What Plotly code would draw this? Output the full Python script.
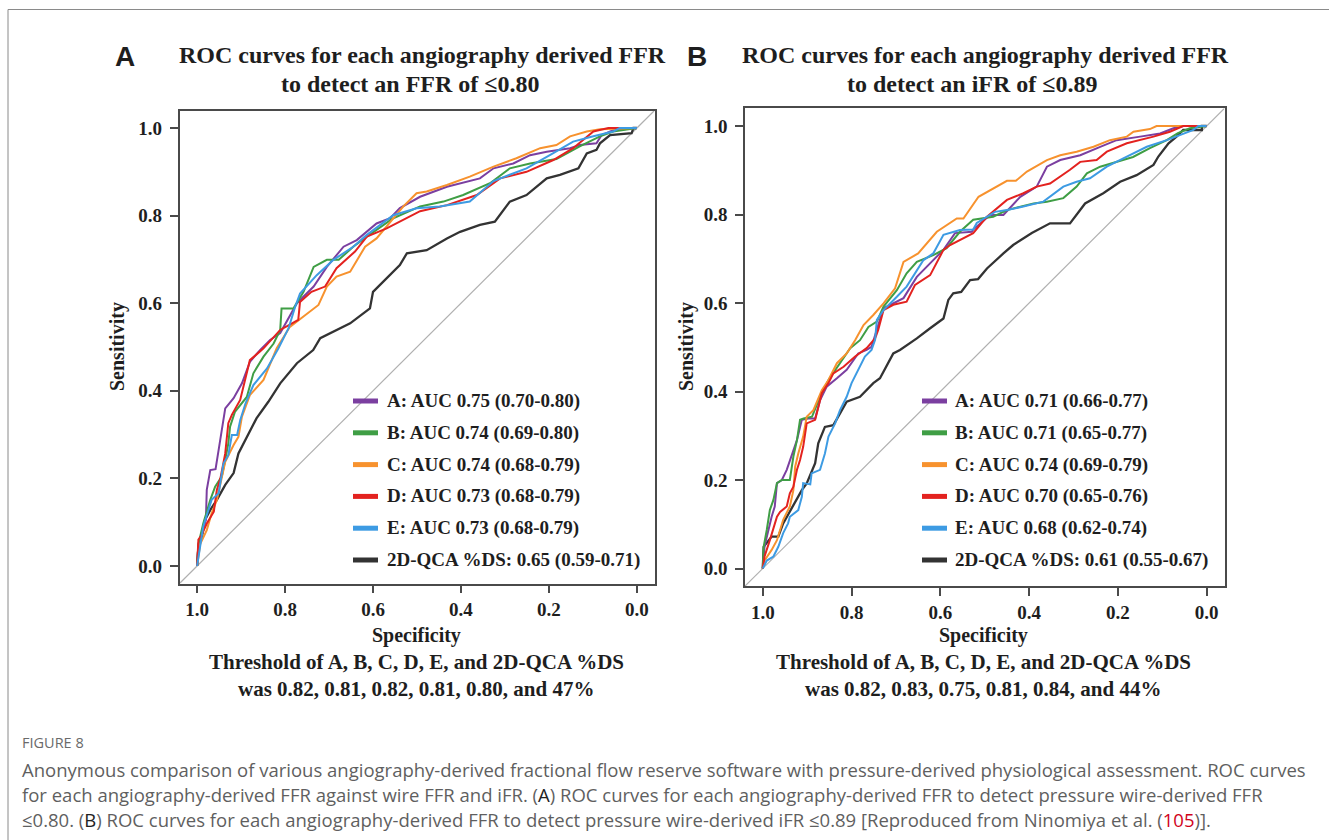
import plotly.graph_objects as go

# ---------------- data ----------------
TICK_VALS = [0.0, 0.2, 0.4, 0.6, 0.8, 1.0]
TICK_TEXT = ["0.0", "0.2", "0.4", "0.6", "0.8", "1.0"]

SERIES = ["A", "B", "C", "D", "E", "2D-QCA %DS"]
LEGEND_FFR = ["A: AUC 0.75 (0.70-0.80)", "B: AUC 0.74 (0.69-0.80)", "C: AUC 0.74 (0.68-0.79)",
              "D: AUC 0.73 (0.68-0.79)", "E: AUC 0.73 (0.68-0.79)", "2D-QCA %DS: 0.65 (0.59-0.71)"]
LEGEND_IFR = ["A: AUC 0.71 (0.66-0.77)", "B: AUC 0.71 (0.65-0.77)", "C: AUC 0.74 (0.69-0.79)",
              "D: AUC 0.70 (0.65-0.76)", "E: AUC 0.68 (0.62-0.74)", "2D-QCA %DS: 0.61 (0.55-0.67)"]

# Panel A (FFR <= 0.80): specificity / sensitivity
FFR_A_SPEC = [1.0, 0.997, 0.98, 0.978, 0.97, 0.958, 0.951, 0.94, 0.936, 0.917, 0.898, 0.88, 0.857, 0.834, 0.811,
              0.773, 0.735, 0.705, 0.667, 0.637, 0.592, 0.561, 0.539, 0.493, 0.432, 0.357, 0.326, 0.281, 0.243,
              0.205, 0.152, 0.13, 0.092, 0.08, 0.054, 0.0]
FFR_A_SENS = [0.0, 0.05, 0.105, 0.174, 0.219, 0.221, 0.265, 0.333, 0.36, 0.383, 0.417, 0.466, 0.493, 0.516, 0.532,
              0.6, 0.638, 0.683, 0.729, 0.744, 0.782, 0.794, 0.817, 0.843, 0.866, 0.885, 0.908, 0.919, 0.938,
              0.946, 0.954, 0.961, 0.965, 0.984, 0.995, 1.0]
FFR_B_SPEC = [1.0, 0.997, 0.986, 0.97, 0.959, 0.944, 0.936, 0.929, 0.925, 0.914, 0.887, 0.872, 0.849, 0.826, 0.811,
              0.808, 0.781, 0.758, 0.735, 0.705, 0.678, 0.645, 0.614, 0.554, 0.493, 0.44, 0.395, 0.334, 0.289,
              0.243, 0.183, 0.13, 0.084, 0.054, 0.0]
FFR_B_SENS = [0.0, 0.05, 0.097, 0.151, 0.181, 0.204, 0.242, 0.28, 0.318, 0.352, 0.386, 0.44, 0.478, 0.508, 0.539,
              0.588, 0.588, 0.626, 0.683, 0.699, 0.699, 0.729, 0.752, 0.794, 0.821, 0.832, 0.847, 0.874, 0.908,
              0.919, 0.929, 0.958, 0.981, 0.992, 1.0]
FFR_C_SPEC = [1.0, 0.993, 0.978, 0.967, 0.955, 0.944, 0.936, 0.917, 0.906, 0.898, 0.88, 0.849, 0.819, 0.789, 0.758,
              0.724, 0.705, 0.683, 0.652, 0.618, 0.592, 0.554, 0.531, 0.501, 0.478, 0.432, 0.38, 0.326, 0.274,
              0.22, 0.183, 0.152, 0.114, 0.084, 0.0]
FFR_C_SENS = [0.0, 0.05, 0.082, 0.12, 0.151, 0.204, 0.238, 0.276, 0.295, 0.341, 0.39, 0.425, 0.497, 0.546, 0.569,
              0.596, 0.638, 0.661, 0.672, 0.729, 0.748, 0.794, 0.821, 0.851, 0.855, 0.87, 0.889, 0.912, 0.931,
              0.954, 0.961, 0.981, 0.992, 0.997, 1.0]
FFR_D_SPEC = [1.0, 0.997, 0.99, 0.978, 0.962, 0.955, 0.947, 0.936, 0.929, 0.921, 0.902, 0.88, 0.857, 0.849, 0.811,
              0.77, 0.766, 0.74, 0.709, 0.683, 0.641, 0.614, 0.569, 0.493, 0.432, 0.364, 0.311, 0.251, 0.19,
              0.145, 0.099, 0.065, 0.0]
FFR_D_SENS = [0.0, 0.06, 0.07, 0.097, 0.124, 0.174, 0.2, 0.257, 0.326, 0.345, 0.379, 0.47, 0.49, 0.497, 0.539,
              0.562, 0.603, 0.626, 0.638, 0.68, 0.718, 0.752, 0.771, 0.81, 0.824, 0.847, 0.885, 0.9, 0.927,
              0.954, 0.992, 1.0, 1.0]
FFR_E_SPEC = [1.0, 0.993, 0.986, 0.967, 0.951, 0.94, 0.929, 0.921, 0.909, 0.902, 0.89, 0.872, 0.841, 0.815, 0.792,
              0.777, 0.766, 0.728, 0.69, 0.645, 0.614, 0.554, 0.501, 0.448, 0.38, 0.326, 0.251, 0.198, 0.145,
              0.099, 0.054, 0.039, 0.0]
FFR_E_SENS = [0.0, 0.05, 0.09, 0.151, 0.166, 0.234, 0.253, 0.299, 0.299, 0.333, 0.371, 0.413, 0.451, 0.497, 0.543,
              0.592, 0.622, 0.664, 0.699, 0.729, 0.756, 0.801, 0.817, 0.821, 0.832, 0.879, 0.908, 0.938, 0.969,
              0.981, 0.992, 1.0, 1.0]
FFR_QCA_SPEC = [1.0, 0.997, 0.989, 0.982, 0.97, 0.955, 0.936, 0.917, 0.906, 0.887, 0.865, 0.838, 0.811, 0.773,
                0.736, 0.72, 0.652, 0.607, 0.6, 0.539, 0.523, 0.478, 0.432, 0.402, 0.357, 0.323, 0.289, 0.251,
                0.205, 0.175, 0.133, 0.114, 0.092, 0.084, 0.061, 0.012, 0.008, 0.0]
FFR_QCA_SENS = [0.0, 0.044, 0.067, 0.105, 0.128, 0.151, 0.185, 0.212, 0.257, 0.295, 0.337, 0.375, 0.417, 0.463,
                0.493, 0.52, 0.554, 0.588, 0.626, 0.687, 0.714, 0.721, 0.748, 0.763, 0.779, 0.786, 0.832, 0.847,
                0.885, 0.893, 0.908, 0.942, 0.95, 0.965, 0.984, 0.988, 1.0, 1.0]

# Panel B (iFR <= 0.89)
IFR_A_SPEC = [1.0, 0.996, 0.98, 0.973, 0.968, 0.957, 0.946, 0.935, 0.923, 0.916, 0.912, 0.897, 0.882, 0.871, 0.856,
              0.833, 0.811, 0.785, 0.766, 0.755, 0.743, 0.728, 0.683, 0.653, 0.616, 0.593, 0.567, 0.529, 0.526,
              0.488, 0.458, 0.42, 0.383, 0.36, 0.33, 0.285, 0.24, 0.203, 0.15, 0.105, 0.075, 0.053, 0.0]
IFR_A_SENS = [0.0, 0.05, 0.117, 0.14, 0.193, 0.2, 0.223, 0.253, 0.29, 0.32, 0.336, 0.339, 0.339, 0.38, 0.411,
              0.43, 0.449, 0.486, 0.494, 0.501, 0.539, 0.588, 0.611, 0.659, 0.697, 0.72, 0.758, 0.761, 0.766,
              0.799, 0.799, 0.84, 0.863, 0.908, 0.923, 0.934, 0.953, 0.968, 0.976, 0.983, 0.995, 1.0, 1.0]
IFR_B_SPEC = [1.0, 0.998, 0.991, 0.984, 0.976, 0.968, 0.957, 0.939, 0.931, 0.923, 0.916, 0.908, 0.889, 0.871, 0.852,
              0.826, 0.803, 0.781, 0.762, 0.743, 0.728, 0.698, 0.676, 0.653, 0.616, 0.586, 0.556, 0.526, 0.511,
              0.481, 0.45, 0.39, 0.36, 0.323, 0.293, 0.27, 0.24, 0.166, 0.128, 0.09, 0.065, 0.038, 0.0]
IFR_B_SENS = [0.0, 0.049, 0.087, 0.132, 0.155, 0.193, 0.2, 0.2, 0.253, 0.29, 0.336, 0.339, 0.343, 0.388, 0.426,
              0.464, 0.498, 0.516, 0.546, 0.558, 0.592, 0.629, 0.667, 0.693, 0.708, 0.724, 0.761, 0.788, 0.79,
              0.795, 0.81, 0.825, 0.829, 0.837, 0.863, 0.893, 0.908, 0.93, 0.95, 0.968, 0.984, 0.995, 1.0]
IFR_C_SPEC = [1.0, 0.996, 0.98, 0.968, 0.954, 0.939, 0.931, 0.927, 0.92, 0.909, 0.901, 0.886, 0.867, 0.852, 0.833,
              0.811, 0.792, 0.773, 0.751, 0.728, 0.702, 0.683, 0.65, 0.608, 0.563, 0.548, 0.514, 0.481, 0.45,
              0.43, 0.405, 0.36, 0.33, 0.293, 0.255, 0.218, 0.18, 0.165, 0.128, 0.113, 0.0]
IFR_C_SENS = [0.0, 0.018, 0.042, 0.064, 0.11, 0.14, 0.177, 0.23, 0.26, 0.298, 0.343, 0.358, 0.403, 0.426, 0.464,
              0.486, 0.516, 0.55, 0.573, 0.599, 0.633, 0.693, 0.712, 0.761, 0.791, 0.791, 0.84, 0.859, 0.876,
              0.876, 0.897, 0.923, 0.934, 0.942, 0.953, 0.968, 0.976, 0.987, 0.993, 1.0, 1.0]
IFR_D_SPEC = [1.0, 0.996, 0.984, 0.968, 0.961, 0.946, 0.939, 0.931, 0.923, 0.916, 0.909, 0.901, 0.882, 0.867, 0.852,
              0.841, 0.818, 0.792, 0.766, 0.747, 0.74, 0.728, 0.706, 0.676, 0.657, 0.623, 0.593, 0.578, 0.526,
              0.495, 0.45, 0.413, 0.383, 0.353, 0.308, 0.285, 0.248, 0.225, 0.18, 0.12, 0.083, 0.053, 0.0]
IFR_D_SENS = [0.0, 0.027, 0.064, 0.117, 0.128, 0.14, 0.17, 0.185, 0.223, 0.245, 0.275, 0.328, 0.336, 0.396, 0.419,
              0.441, 0.456, 0.479, 0.498, 0.52, 0.539, 0.584, 0.596, 0.603, 0.641, 0.663, 0.72, 0.731, 0.758,
              0.795, 0.833, 0.848, 0.863, 0.87, 0.901, 0.919, 0.923, 0.942, 0.961, 0.976, 0.987, 1.0, 1.0]
IFR_E_SPEC = [1.0, 0.991, 0.976, 0.965, 0.954, 0.943, 0.939, 0.92, 0.912, 0.909, 0.893, 0.89, 0.871, 0.86, 0.852,
              0.837, 0.826, 0.811, 0.8, 0.785, 0.77, 0.755, 0.747, 0.743, 0.728, 0.698, 0.676, 0.638, 0.616,
              0.593, 0.556, 0.526, 0.518, 0.477, 0.45, 0.413, 0.368, 0.323, 0.293, 0.263, 0.225, 0.18, 0.135,
              0.09, 0.053, 0.03, 0.019, 0.0]
IFR_E_SENS = [0.0, 0.018, 0.027, 0.049, 0.08, 0.102, 0.117, 0.132, 0.162, 0.193, 0.19, 0.215, 0.223, 0.26, 0.298,
              0.328, 0.358, 0.388, 0.419, 0.449, 0.479, 0.494, 0.517, 0.562, 0.584, 0.614, 0.637, 0.697, 0.712,
              0.754, 0.765, 0.766, 0.781, 0.806, 0.81, 0.818, 0.829, 0.863, 0.874, 0.882, 0.908, 0.931, 0.953,
              0.968, 0.983, 0.991, 1.0, 1.0]
IFR_QCA_SPEC = [1.0, 0.998, 0.98, 0.965, 0.954, 0.939, 0.923, 0.912, 0.901, 0.882, 0.875, 0.86, 0.841, 0.826,
                0.811, 0.781, 0.751, 0.736, 0.706, 0.691, 0.653, 0.623, 0.593, 0.582, 0.571, 0.553, 0.533, 0.515,
                0.495, 0.458, 0.436, 0.394, 0.353, 0.308, 0.274, 0.233, 0.195, 0.158, 0.12, 0.109, 0.086, 0.068,
                0.053, 0.011, 0.011, 0.0]
IFR_QCA_SENS = [0.0, 0.049, 0.072, 0.072, 0.102, 0.128, 0.159, 0.177, 0.192, 0.238, 0.283, 0.32, 0.324, 0.351,
                0.377, 0.388, 0.419, 0.43, 0.486, 0.494, 0.52, 0.543, 0.565, 0.607, 0.622, 0.625, 0.652, 0.654,
                0.678, 0.712, 0.731, 0.758, 0.78, 0.78, 0.825, 0.848, 0.874, 0.889, 0.912, 0.931, 0.961, 0.976,
                0.991, 0.991, 1.0, 1.0]

CHANCE_SPEC = [1.04, -0.04]
CHANCE_SENS = [-0.04, 1.04]

# ---------------- style ----------------
COLORS = ["#7b3fa0", "#3f9e45", "#f7922e", "#e3221f", "#3d9be3", "#333333"]
W, H = 1329, 840
SERIF = "Liberation Serif, Times New Roman, serif"
TXT = "#1e1e1e"


def px(x):
    return x / W


def py(y):
    return 1 - y / H


fig = go.Figure()

panels = [
    ("x", "y", list(zip([FFR_A_SPEC, FFR_B_SPEC, FFR_C_SPEC, FFR_D_SPEC, FFR_E_SPEC, FFR_QCA_SPEC],
                        [FFR_A_SENS, FFR_B_SENS, FFR_C_SENS, FFR_D_SENS, FFR_E_SENS, FFR_QCA_SENS]))),
    ("x2", "y2", list(zip([IFR_A_SPEC, IFR_B_SPEC, IFR_C_SPEC, IFR_D_SPEC, IFR_E_SPEC, IFR_QCA_SPEC],
                          [IFR_A_SENS, IFR_B_SENS, IFR_C_SENS, IFR_D_SENS, IFR_E_SENS, IFR_QCA_SENS]))),
]
for xa, ya, curves in panels:
    fig.add_trace(go.Scatter(x=CHANCE_SPEC, y=CHANCE_SENS, mode="lines", xaxis=xa, yaxis=ya,
                             line=dict(color="#b0b0b0", width=1.2), hoverinfo="skip"))
    order = [5, 0, 1, 2, 3, 4]
    for i in order:
        sx, sy = curves[i]
        fig.add_trace(go.Scatter(x=sx, y=sy, mode="lines", xaxis=xa, yaxis=ya, name=SERIES[i],
                                 line=dict(color=COLORS[i], width=2.3 if i == 5 else 2.0)))

axis_common = dict(showgrid=False, zeroline=False, showline=True, mirror=True, linecolor="#4a4a4a",
                   linewidth=1.6, ticks="outside", ticklen=8, tickwidth=1.6, tickcolor="#4a4a4a",
                   tickvals=TICK_VALS, ticktext=TICK_TEXT,
                   tickfont=dict(family=SERIF, size=19, color=TXT, weight="bold"))

fig.update_layout(
    width=W, height=H, autosize=False, margin=dict(l=0, r=0, t=0, b=0),
    paper_bgcolor="white", plot_bgcolor="white", showlegend=False,
    xaxis=dict(axis_common, domain=[px(179.5), px(654.5)], range=[1.04, -0.04], anchor="y"),
    yaxis=dict(axis_common, domain=[py(583.5), py(110.5)], range=[-0.04, 1.04], anchor="x",
               ticklabelstandoff=4),
    xaxis2=dict(axis_common, domain=[px(745), px(1224.5)], range=[1.04, -0.04], anchor="y2"),
    yaxis2=dict(axis_common, domain=[py(586.2), py(108.3)], range=[-0.04, 1.04], anchor="x2",
                ticklabelstandoff=4),
)

ann = []
shapes = []


def text(x, y, s, size, family=SERIF, bold=True, color=TXT, xanchor="center", angle=0):
    ann.append(dict(x=px(x), y=py(y), xref="paper", yref="paper", text=s, showarrow=False,
                    xanchor=xanchor, yanchor="middle", textangle=angle,
                    font=dict(family=family, size=size, color=color, weight="bold" if bold else "normal")))


# panel letters
text(125, 57, "A", 28, family="Liberation Sans, Arial, sans-serif")
text(697, 57, "B", 28, family="Liberation Sans, Arial, sans-serif")
# titles
text(422, 55, "ROC curves for each angiography derived FFR", 24)
text(410, 84, "to detect an FFR of ≤0.80", 24)
text(985, 55, "ROC curves for each angiography derived FFR", 24)
text(972, 84, "to detect an iFR of ≤0.89", 24)
# axis titles
text(117, 347, "Sensitivity", 20, angle=-90)
text(686, 347, "Sensitivity", 20, angle=-90)
text(416, 635, "Specificity", 20)
text(983, 635, "Specificity", 20)
# thresholds
text(416, 662, "Threshold of A, B, C, D, E, and 2D-QCA %DS", 21)
text(416, 689, "was 0.82, 0.81, 0.82, 0.81, 0.80, and 47%", 21)
text(983, 662, "Threshold of A, B, C, D, E, and 2D-QCA %DS", 21)
text(983, 689, "was 0.82, 0.83, 0.75, 0.81, 0.84, and 44%", 21)

# legends
for labels, x0, x1, xt in [(LEGEND_FFR, 353, 378, 385), (LEGEND_IFR, 922, 947, 953)]:
    for i, lab in enumerate(labels):
        yy = 401 + 31.8 * i
        shapes.append(dict(type="line", xref="paper", yref="paper", x0=px(x0), x1=px(x1), y0=py(yy), y1=py(yy),
                           line=dict(color=COLORS[i], width=5)))
        text(xt, yy, lab, 19, xanchor="left")

# figure frame
shapes.append(dict(type="line", xref="paper", yref="paper", x0=px(8), x1=1, y0=py(9.5), y1=py(9.5),
                   line=dict(color="#8a8a8a", width=1)))
shapes.append(dict(type="line", xref="paper", yref="paper", x0=px(8), x1=px(8), y0=py(9.5), y1=0,
                   line=dict(color="#8a8a8a", width=1)))

# caption
CAP = "Open Sans, Lato, sans-serif"
CAPC = "#5f5f5f"
text(20, 742, "FIGURE 8", 14.5, family=CAP, bold=False, color="#6a6a6a", xanchor="left")
text(20, 769, "Anonymous comparison of various angiography-derived fractional flow reserve software with "
              "pressure-derived physiological assessment. ROC curves", 18.5, family=CAP, bold=False, color=CAPC,
     xanchor="left")
text(20, 794, "for each angiography-derived FFR against wire FFR and iFR. (<span style='color:#222'>A</span>) "
              "ROC curves for each angiography-derived FFR to detect pressure wire-derived FFR", 18.5, family=CAP,
     bold=False, color=CAPC, xanchor="left")
text(20, 819, "≤0.80. (<span style='color:#222'>B</span>) ROC curves for each angiography-derived FFR to detect "
              "pressure wire-derived iFR ≤0.89 [Reproduced from Ninomiya et al. "
              "(<span style='color:#d0021b'>105</span>)].", 18.5, family=CAP, bold=False, color=CAPC,
     xanchor="left")

fig.update_layout(annotations=ann, shapes=shapes)
fig.write_html("out.html")
